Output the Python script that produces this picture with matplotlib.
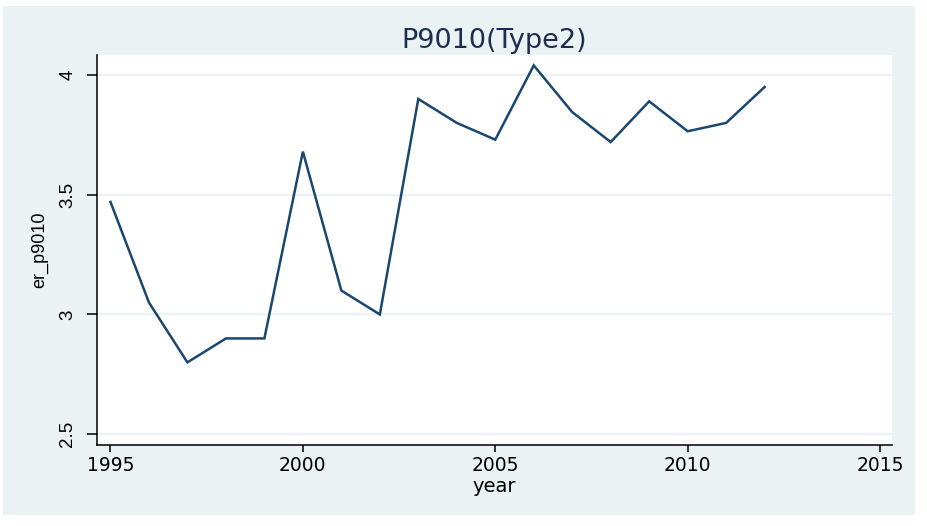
import matplotlib.pyplot as plt
from matplotlib.patches import Rectangle

plt.rcParams['font.family'] = ['DejaVu Sans']

# data
years = [1995, 1996, 1997, 1998, 1999, 2000, 2001, 2002, 2003,
         2004, 2005, 2006, 2007, 2008, 2009, 2010, 2011, 2012]
er_p9010 = [3.47, 3.05, 2.80, 2.90, 2.90, 3.68, 3.10, 3.00, 3.90,
            3.80, 3.73, 4.04, 3.845, 3.72, 3.89, 3.765, 3.80, 3.95]
xticks = [1995, 2000, 2005, 2010, 2015]
yticks = [2.5, 3, 3.5, 4]
yticklabels = ['2.5', '3', '3.5', '4']

bg = '#EAF2F3'
navy = '#1a476f'
narrow = ['Liberation Sans', 'DejaVu Sans']   # for the rotated texts

fig = plt.figure(figsize=(9.27, 5.26), dpi=100)
fig.patch.set_facecolor('white')
fig.add_artist(Rectangle((3 / 927, 1 - 515 / 526), 912 / 927, 509 / 526,
                         transform=fig.transFigure, facecolor=bg,
                         edgecolor='none', zorder=-10))

ax = fig.add_axes([97 / 927, 1 - 445 / 526, 795 / 927, 390 / 526])
ax.set_zorder(5)
ax.set_facecolor('white')

ax.plot(years, er_p9010, color=navy, lw=1.8, solid_joinstyle='miter', zorder=3)

ax.set_xlim(1994.65, 2015.31)
ax.set_ylim(2.455, 4.0835)
ax.set_xticks(xticks)
ax.set_yticks(yticks)
ax.set_yticklabels(yticklabels, rotation=90, va='center', family=narrow)

ax.yaxis.grid(True, color=bg, lw=1.7, zorder=1)
ax.set_axisbelow(True)

for s in ['top', 'right']:
    ax.spines[s].set_visible(False)
for s in ['left', 'bottom']:
    ax.spines[s].set_linewidth(1.1)
    ax.spines[s].set_color('black')

ax.tick_params(axis='y', length=7, width=1.1, pad=8, labelsize=13.5)
ax.tick_params(axis='x', length=5, width=1.1, pad=3, labelsize=13.5)

ax.set_xlabel('year', fontsize=14, labelpad=1)
ax.set_ylabel('er_p9010', fontsize=13, labelpad=8, family=narrow)
ax.set_title('P9010(Type2)', fontsize=19.5, color='#1e2d4f', pad=5)

fig.savefig('out.png', dpi=100, facecolor=fig.get_facecolor())
